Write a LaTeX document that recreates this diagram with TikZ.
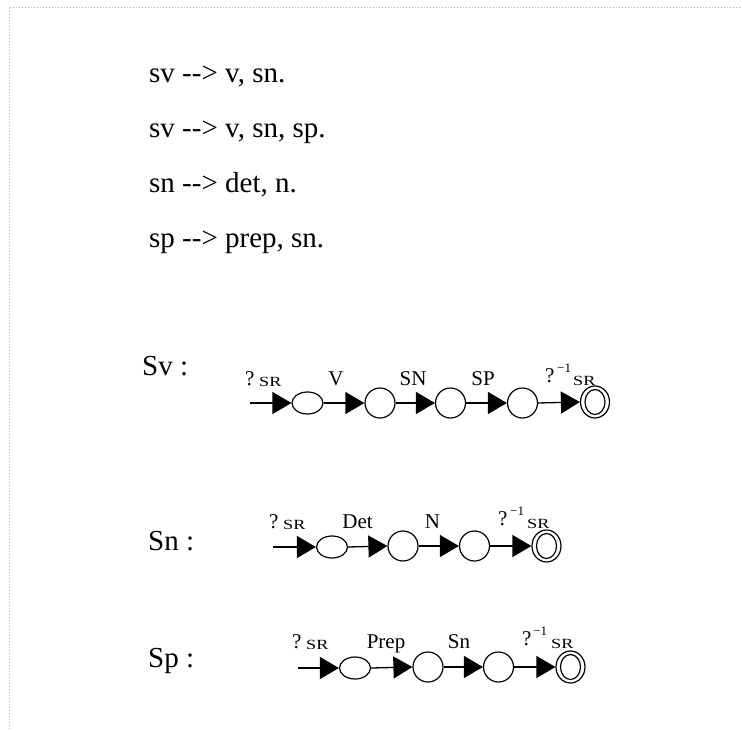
\documentclass[tikz,border=0pt]{standalone}
\usepackage{fontspec}
\setmainfont{Liberation Serif}
\usetikzlibrary{shapes.geometric,arrows.meta}
\tikzset{
  rule/.style={anchor=base west,inner sep=0pt,font=\fontsize{29}{29}\selectfont},
  rowname/.style={anchor=base west,inner sep=0pt,font=\fontsize{29}{29}\selectfont},
  lab/.style={anchor=base,inner sep=0pt,font=\fontsize{21}{21}\selectfont},
  qm/.style={anchor=base west,inner sep=0pt,font=\fontsize{21}{21}\selectfont},
  sub/.style={anchor=base west,inner sep=0pt,font=\fontsize{14}{14}\selectfont},
  sup/.style={anchor=base west,inner sep=0pt,font=\fontsize{13}{13}\selectfont},
  st/.style={draw,ellipse,line width=1.2pt,inner sep=0pt,minimum width=30pt,minimum height=30pt},
  st1/.style={st,minimum width=31pt,minimum height=22pt},
  fin/.style={st,minimum width=29pt,minimum height=32pt},
  fini/.style={st,minimum width=20pt,minimum height=25pt},
  tr/.style={line width=1.3pt,-{Triangle[length=19pt,width=22pt]}},
  border/.style={gray!60,line width=0.7pt,dash pattern=on 1pt off 2pt}
}
\newcommand{\srtxt}{\scalebox{1.3}[1]{SR}}
\newcommand{\arr}{-\kern0pt-\kern0pt>}
\begin{document}
\begin{tikzpicture}[x=1pt,y=-1pt]
\useasboundingbox (0,0) rectangle (742,731);
\draw[border] (9.5,7.5) -- (742,7.5);
\draw[border] (9.5,7.5) -- (9.5,731);
% rules
\node[rule] (r1) at (149,82) {sv \arr{} v, sn.};
\node[rule] (r2) at (149,137) {sv \arr{} v, sn, sp.};
\node[rule] (r3) at (149,192) {sn \arr{} det, n.};
\node[rule] (r4) at (149,247) {sp \arr{} prep, sn.};
% Sv
\node[rowname] (svname) at (142,375) {Sv :};
\coordinate (sv0) at (250,403);
\node[st1] (sv1) at (307.5,403) {};
\node[st] (sv2) at (380,403) {};
\node[st] (sv3) at (450.5,403) {};
\node[st] (sv4) at (522.5,403) {};
\node[fin] (sv5) at (595,402) {};
\node[fini] (sv5i) at (595,402) {};
\draw[tr] (sv0) -- (sv1.west);
\draw[tr] (sv1.east) -- (sv2.west);
\draw[tr] (sv2.east) -- (sv3.west);
\draw[tr] (sv3.east) -- (sv4.west);
\draw[tr] (sv4.east) -- (sv5.west);
\node[qm] (svq1) at (245,385) {?};
\node[sub] (svs1) at (259,386) {\srtxt};
\node[lab] (svl1) at (336,385) {V};
\node[lab] (svl2) at (413,385) {SN};
\node[lab] (svl3) at (483,385) {SP};
\node[qm] (svq2) at (545,382) {?};
\node[sup] (svp2) at (557,372) {−1};
\node[sub] (svs2) at (573,385) {\srtxt};
% Sn
\node[rowname] (snname) at (148,550) {Sn :};
\coordinate (sn0) at (273,547);
\node[st1] (sn1) at (332,547) {};
\node[st] (sn2) at (403,546) {};
\node[st] (sn3) at (474.5,546) {};
\node[fin] (sn4) at (546.5,546) {};
\node[fini] (sn4i) at (546.5,546) {};
\draw[tr] (sn0) -- (sn1.west);
\draw[tr] (sn1.east) -- (sn2.west);
\draw[tr] (sn2.east) -- (sn3.west);
\draw[tr] (sn3.east) -- (sn4.west);
\node[qm] (snq1) at (269,528) {?};
\node[sub] (sns1) at (283,529) {\srtxt};
\node[lab] (snl1) at (357.5,528) {Det};
\node[lab] (snl2) at (432.5,528) {N};
\node[qm] (snq2) at (498,525) {?};
\node[sup] (snp2) at (510,515) {−1};
\node[sub] (sns2) at (527,528) {\srtxt};
% Sp
\node[rowname] (spname) at (148,667) {Sp :};
\coordinate (sp0) at (298,668);
\node[st1] (sp1) at (355,668) {};
\node[st] (sp2) at (428,667) {};
\node[st] (sp3) at (498.5,667) {};
\node[fin] (sp4) at (570.5,667) {};
\node[fini] (sp4i) at (570.5,667) {};
\draw[tr] (sp0) -- (sp1.west);
\draw[tr] (sp1.east) -- (sp2.west);
\draw[tr] (sp2.east) -- (sp3.west);
\draw[tr] (sp3.east) -- (sp4.west);
\node[qm] (spq1) at (292,648) {?};
\node[sub] (sps1) at (306,649) {\srtxt};
\node[lab] (spl1) at (386,648) {Prep};
\node[lab] (spl2) at (459,648) {Sn};
\node[qm] (spq2) at (522,645) {?};
\node[sup] (spp2) at (533,635) {−1};
\node[sub] (sps2) at (551,648) {\srtxt};
\end{tikzpicture}
\end{document}
